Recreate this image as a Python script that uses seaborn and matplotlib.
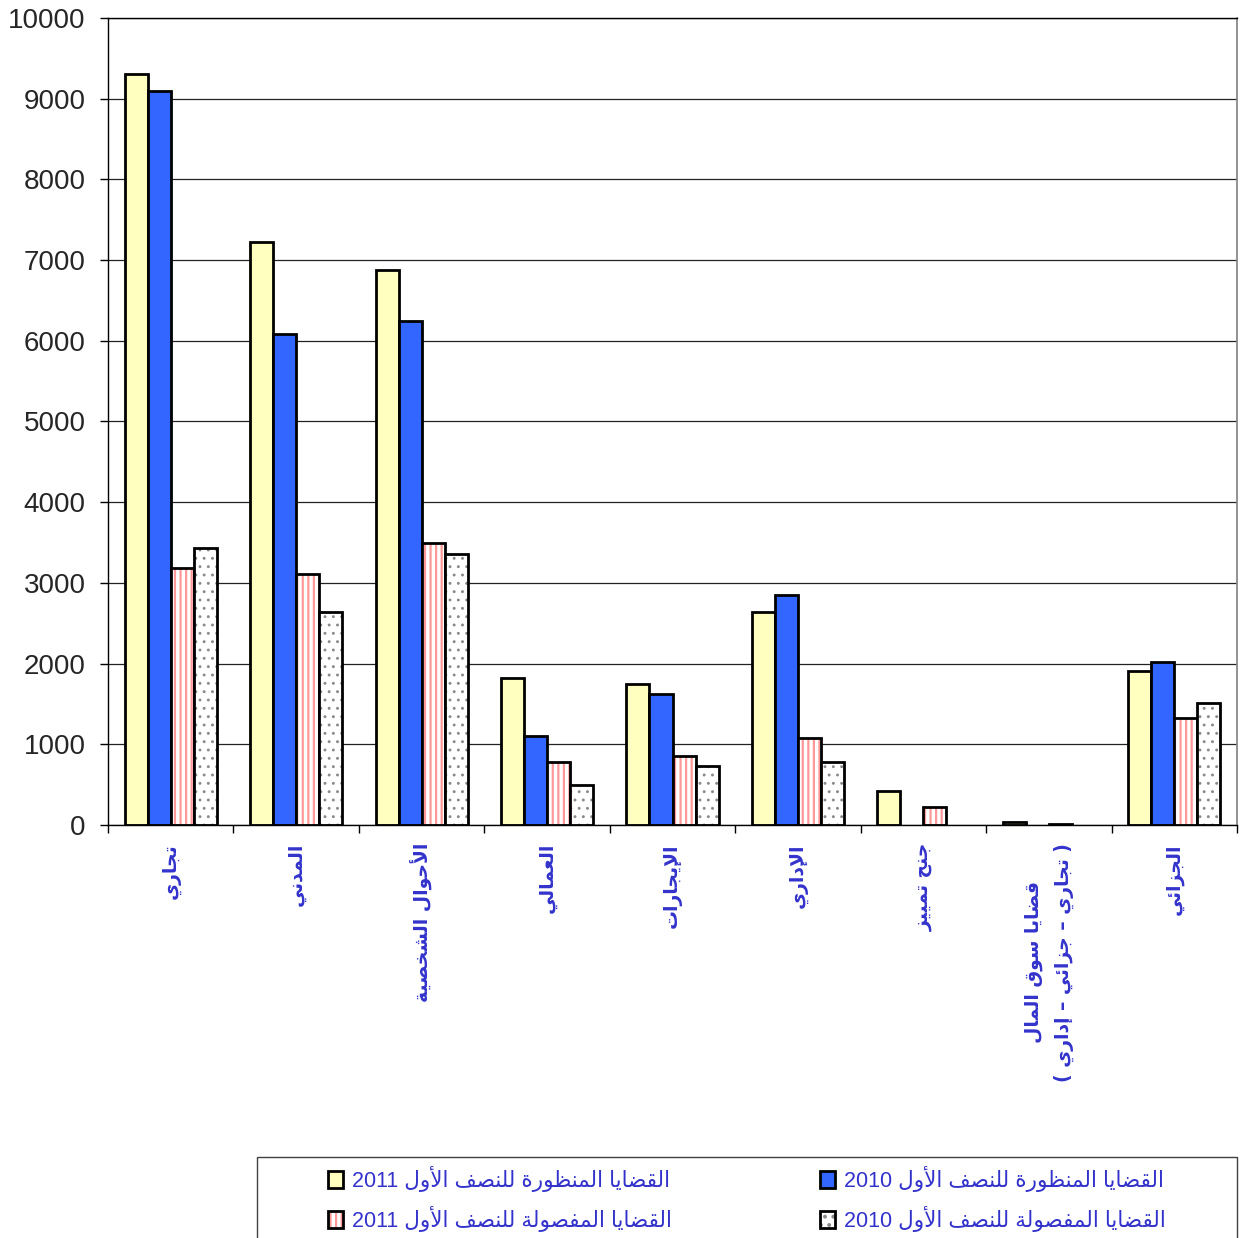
import re
import numpy as np
import pandas as pd
import matplotlib
matplotlib.use("Agg")
import matplotlib.pyplot as plt
import matplotlib.colors as mcolors
from matplotlib.patches import Rectangle
import seaborn as sns

# categories (logical Arabic text)
categories = ["تجاري", "المدني", "الأحوال الشخصية", "العمالي", "الإيجارات",
              "الإداري", "جنح تمييز", "قضايا سوق المال\n( تجاري – جزائي – إداري )",
              "الجزائي"]

series_names = ["القضايا المنظورة للنصف الأول 2011",
                "القضايا المنظورة للنصف الأول 2010",
                "القضايا المفصولة للنصف الأول 2011",
                "القضايا المفصولة للنصف الأول 2010"]

viewed_2011 = [9300, 7225, 6880, 1820, 1750, 2640, 420, 40, 1905]
viewed_2010 = [9100, 6090, 6245, 1105, 1620, 2850, 0, 0, 2020]
decided_2011 = [3185, 3110, 3495, 780, 855, 1080, 225, 10, 1325]
decided_2010 = [3435, 2640, 3355, 495, 730, 780, 0, 0, 1510]

yticks = list(range(0, 10001, 1000))

# --- minimal Arabic shaping (presentation forms) + visual reordering ---
FORMS = {
    0x0627: (0xFE8D, 0xFE8E), 0x0623: (0xFE83, 0xFE84), 0x0625: (0xFE87, 0xFE88),
    0x0626: (0xFE89, 0xFE8A, 0xFE8B, 0xFE8C), 0x0628: (0xFE8F, 0xFE90, 0xFE91, 0xFE92),
    0x0629: (0xFE93, 0xFE94), 0x062A: (0xFE95, 0xFE96, 0xFE97, 0xFE98),
    0x062C: (0xFE9D, 0xFE9E, 0xFE9F, 0xFEA0), 0x062D: (0xFEA1, 0xFEA2, 0xFEA3, 0xFEA4),
    0x062E: (0xFEA5, 0xFEA6, 0xFEA7, 0xFEA8), 0x062F: (0xFEA9, 0xFEAA),
    0x0631: (0xFEAD, 0xFEAE), 0x0632: (0xFEAF, 0xFEB0),
    0x0633: (0xFEB1, 0xFEB2, 0xFEB3, 0xFEB4), 0x0634: (0xFEB5, 0xFEB6, 0xFEB7, 0xFEB8),
    0x0635: (0xFEB9, 0xFEBA, 0xFEBB, 0xFEBC), 0x0636: (0xFEBD, 0xFEBE, 0xFEBF, 0xFEC0),
    0x0638: (0xFEC5, 0xFEC6, 0xFEC7, 0xFEC8), 0x0639: (0xFEC9, 0xFECA, 0xFECB, 0xFECC),
    0x0641: (0xFED1, 0xFED2, 0xFED3, 0xFED4), 0x0642: (0xFED5, 0xFED6, 0xFED7, 0xFED8),
    0x0644: (0xFEDD, 0xFEDE, 0xFEDF, 0xFEE0), 0x0645: (0xFEE1, 0xFEE2, 0xFEE3, 0xFEE4),
    0x0646: (0xFEE5, 0xFEE6, 0xFEE7, 0xFEE8), 0x0648: (0xFEED, 0xFEEE),
    0x064A: (0xFEF1, 0xFEF2, 0xFEF3, 0xFEF4),
}
LAM_ALEF = {0x0627: (0xFEFB, 0xFEFC), 0x0623: (0xFEF7, 0xFEF8), 0x0625: (0xFEF9, 0xFEFA)}
MIRROR = {"(": ")", ")": "("}


def shape_arabic(text):
    units = []
    i = 0
    while i < len(text):
        c = ord(text[i])
        if c == 0x0644 and i + 1 < len(text) and ord(text[i + 1]) in LAM_ALEF:
            units.append(LAM_ALEF[ord(text[i + 1])])
            i += 2
        elif c in FORMS:
            units.append(FORMS[c])
            i += 1
        else:
            units.append(text[i])
            i += 1
    out = []
    for k, u in enumerate(units):
        if isinstance(u, str):
            out.append(u)
            continue
        prev = units[k - 1] if k > 0 else None
        nxt = units[k + 1] if k + 1 < len(units) else None
        jp = isinstance(prev, tuple) and len(prev) == 4
        jn = len(u) == 4 and isinstance(nxt, tuple)
        if jp and jn:
            f = u[3]
        elif jp:
            f = u[1]
        elif jn:
            f = u[2]
        else:
            f = u[0]
        out.append(chr(f))
    return "".join(out)


def rtl(text):
    lines = []
    for line in text.split("\n"):
        s = shape_arabic(line)[::-1]
        s = "".join(MIRROR.get(ch, ch) for ch in s)
        s = re.sub(r"[0-9]+", lambda m: m.group(0)[::-1], s)
        lines.append(s)
    return "\n".join(lines)


def set_hatch_style(p, color, lw):
    if hasattr(p, "set_hatchcolor"):
        p.set_hatchcolor(color)
    else:
        p._hatch_color = mcolors.to_rgba(color)
    if hasattr(p, "set_hatch_linewidth"):
        p.set_hatch_linewidth(lw)
    else:
        p._hatch_linewidth = lw


# --- data frame ---
df = pd.DataFrame({
    "cat": categories * 4,
    "series": np.repeat(series_names, len(categories)),
    "value": viewed_2011 + viewed_2010 + decided_2011 + decided_2010,
})

sns.set_style("ticks")
plt.rcParams["font.family"] = ["Liberation Sans", "DejaVu Sans"]
plt.rcParams["hatch.linewidth"] = 1.6

fills = ["#FFFFC0", "#3366FF", "#FFFFFF", "#FFFFFF"]
hatches = [None, None, "|||", ".."]
hatch_colors = [None, None, "#FF9999", "#8A8A8A"]
hatch_lws = [None, None, 1.6, 0.9]

fig = plt.figure(figsize=(12.47, 12.38), dpi=100)
ax = fig.add_axes([0.0866, 0.3336, 0.9054, 0.6519])

sns.barplot(data=df, x="cat", y="value", hue="series", hue_order=series_names,
            order=categories, palette=fills, width=0.735, edgecolor="black",
            linewidth=2.0, saturation=1, errorbar=None, legend=False, ax=ax)

for cont, h, hc, hl in zip(ax.containers, hatches, hatch_colors, hatch_lws):
    for p in cont.patches:
        if p.get_height() == 0:
            p.set_linewidth(0)
        if h is not None:
            p.set_hatch(h)
            set_hatch_style(p, hc, hl)

ax.set_ylim(0, 10000)
ax.set_xlim(-0.5, len(categories) - 0.5)
ax.set_yticks(yticks)
ax.set_yticklabels([str(v) for v in yticks], fontsize=20)
ax.tick_params(axis="y", length=6, width=1, color="black", pad=10)
ax.yaxis.grid(True, color="#222222", linewidth=0.9)
ax.set_axisbelow(True)

ax.set_xticks(range(len(categories)))
ax.set_xticklabels([rtl(c) for c in categories], rotation=90, fontsize=13.5,
                   fontweight="bold", color="#3333CC", family="DejaVu Sans",
                   va="top", ha="center", multialignment="center", linespacing=1.7)
ax.tick_params(axis="x", length=0, pad=13)
ax.set_xticks(np.arange(-0.5, len(categories), 1.0), minor=True)
ax.tick_params(axis="x", which="minor", length=6, width=1, color="black")
ax.set_xlabel("")
ax.set_ylabel("")

for side in ["left", "bottom", "top"]:
    ax.spines[side].set_color("black")
    ax.spines[side].set_linewidth(1)
ax.spines["right"].set_color("#808080")
ax.spines["right"].set_linewidth(1.2)

# legend: 2011 series in left column, 2010 in right column
handles = [c.patches[0] for c in ax.containers]
order = [0, 2, 1, 3]
leg = fig.legend([handles[i] for i in order], [rtl(series_names[i]) for i in order],
                 ncol=2, loc="upper center", bbox_to_anchor=(0.599, 1 - 1155 / 1238),
                 frameon=False, fontsize=15.5, labelcolor="#3333CC",
                 handlelength=0.7, handleheight=0.8, handletextpad=0.4,
                 columnspacing=6.9, labelspacing=0.65, borderpad=0)
fig.patches.append(Rectangle((257 / 1247, -0.05), 980 / 1247, 0.05 + 1 - 1157 / 1238,
                             transform=fig.transFigure, fill=False,
                             edgecolor="#404040", linewidth=1))

fig.savefig("out.png", dpi=100)
